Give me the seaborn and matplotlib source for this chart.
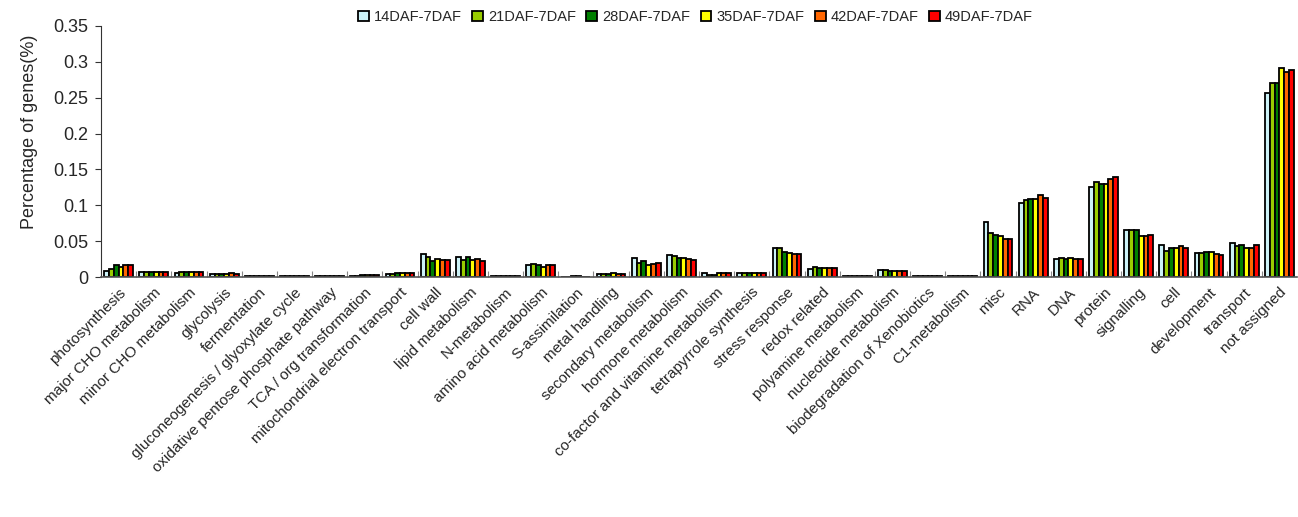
import matplotlib
matplotlib.use("Agg")
import matplotlib.pyplot as plt
import seaborn as sns
import pandas as pd
import numpy as np

categories = [
    "photosynthesis", "major CHO metabolism", "minor CHO metabolism", "glycolysis",
    "fermentation", "gluconeogenesis / glyoxylate cycle",
    "oxidative pentose phosphate pathway", "TCA / org transformation",
    "mitochondrial electron transport", "cell wall", "lipid metabolism",
    "N-metabolism", "amino acid metabolism", "S-assimilation", "metal handling",
    "secondary metabolism", "hormone metabolism", "co-factor and vitamine metabolism",
    "tetrapyrrole synthesis", "stress response", "redox related",
    "polyamine metabolism", "nucleotide metabolism", "biodegradation of Xenobiotics",
    "C1-metabolism", "misc", "RNA", "DNA", "protein", "signalling", "cell",
    "development", "transport", "not assigned",
]

series_names = ["14DAF-7DAF", "21DAF-7DAF", "28DAF-7DAF",
                "35DAF-7DAF", "42DAF-7DAF", "49DAF-7DAF"]

d14 = [0.008, 0.007, 0.006, 0.004, 0.002, 0.002, 0.002, 0.002, 0.004, 0.032, 0.028,
       0.002, 0.017, 0.000, 0.004, 0.027, 0.031, 0.005, 0.005, 0.040, 0.011, 0.002,
       0.010, 0.002, 0.002, 0.076, 0.103, 0.025, 0.126, 0.065, 0.045, 0.033, 0.048, 0.257]
d21 = [0.011, 0.007, 0.007, 0.004, 0.001, 0.002, 0.002, 0.002, 0.004, 0.028, 0.024,
       0.002, 0.018, 0.000, 0.004, 0.020, 0.029, 0.003, 0.005, 0.041, 0.014, 0.002,
       0.010, 0.002, 0.002, 0.061, 0.108, 0.026, 0.132, 0.065, 0.036, 0.033, 0.043, 0.271]
d28 = [0.017, 0.007, 0.007, 0.004, 0.001, 0.002, 0.002, 0.003, 0.005, 0.023, 0.028,
       0.002, 0.017, 0.002, 0.004, 0.023, 0.026, 0.003, 0.005, 0.035, 0.012, 0.002,
       0.008, 0.002, 0.002, 0.059, 0.109, 0.025, 0.130, 0.065, 0.040, 0.035, 0.045, 0.270]
d35 = [0.014, 0.007, 0.007, 0.004, 0.001, 0.002, 0.002, 0.003, 0.005, 0.025, 0.024,
       0.002, 0.014, 0.002, 0.006, 0.017, 0.026, 0.005, 0.005, 0.033, 0.012, 0.002,
       0.008, 0.002, 0.002, 0.057, 0.109, 0.026, 0.130, 0.057, 0.041, 0.035, 0.041, 0.292]
d42 = [0.017, 0.007, 0.007, 0.006, 0.001, 0.002, 0.002, 0.003, 0.005, 0.024, 0.025,
       0.002, 0.017, 0.000, 0.004, 0.018, 0.025, 0.005, 0.005, 0.032, 0.012, 0.002,
       0.008, 0.002, 0.002, 0.053, 0.114, 0.025, 0.137, 0.057, 0.043, 0.032, 0.041, 0.286]
d49 = [0.017, 0.007, 0.007, 0.004, 0.001, 0.002, 0.002, 0.003, 0.005, 0.024, 0.023,
       0.002, 0.017, 0.000, 0.004, 0.020, 0.024, 0.005, 0.005, 0.032, 0.012, 0.002,
       0.008, 0.002, 0.002, 0.053, 0.110, 0.025, 0.139, 0.059, 0.040, 0.031, 0.045, 0.288]

colors = ["#CCF2F7", "#99CC00", "#008000", "#FFFF00", "#FF6600", "#FF0000"]

rows = []
for name, vals in zip(series_names, [d14, d21, d28, d35, d42, d49]):
    for cat, v in zip(categories, vals):
        rows.append({"category": cat, "series": name, "value": v})
df = pd.DataFrame(rows)

sns.set_style("white")
plt.rcParams["font.family"] = ["Liberation Sans", "DejaVu Sans"]

fig = plt.figure(figsize=(12.98, 5.17), dpi=100)
ax = fig.add_axes([101 / 1298, 1 - 277 / 517, 1196 / 1298, 251 / 517])

sns.barplot(data=df, x="category", y="value", hue="series", order=categories,
            hue_order=series_names, palette=colors, edgecolor="black",
            linewidth=1.3, width=0.82, saturation=1, ax=ax, legend=True)

ax.set_ylim(0, 0.35)
ax.set_xlim(-0.5, len(categories) - 0.5)
ax.set_yticks(np.arange(0, 0.351, 0.05))
ax.set_yticklabels(["0", "0.05", "0.1", "0.15", "0.2", "0.25", "0.3", "0.35"])
ax.set_ylabel("Percentage of genes(%)", fontsize=13)
ax.yaxis.set_label_coords(-0.053, 0.578)
ax.set_xlabel("")
ax.set_xticks(range(len(categories)))
ax.set_xticklabels(categories, rotation=45, ha="right", rotation_mode="anchor",
                   fontsize=11)
ax.tick_params(axis="x", length=0, pad=6)
ax.tick_params(axis="y", labelsize=13, length=4, width=0.8, direction="out",
               left=True, color="#333333", pad=5)
ax.set_xticks(np.arange(0.5, len(categories) - 0.5, 1), minor=True)
ax.tick_params(axis="x", which="minor", length=4, direction="in", bottom=True,
               color="#888888", width=0.8)

for side in ["top", "right"]:
    ax.spines[side].set_visible(False)
ax.spines["left"].set_color("#333333")
ax.spines["bottom"].set_color("#555555")
ax.spines["bottom"].set_linewidth(1.2)

leg = ax.legend(loc="lower center", bbox_to_anchor=(0.497, 0.985), ncol=6,
                frameon=False, fontsize=10.5, handlelength=0.75, handleheight=0.75,
                handletextpad=0.35, columnspacing=0.7, borderaxespad=0)

fig.savefig("out.png", dpi=100)
